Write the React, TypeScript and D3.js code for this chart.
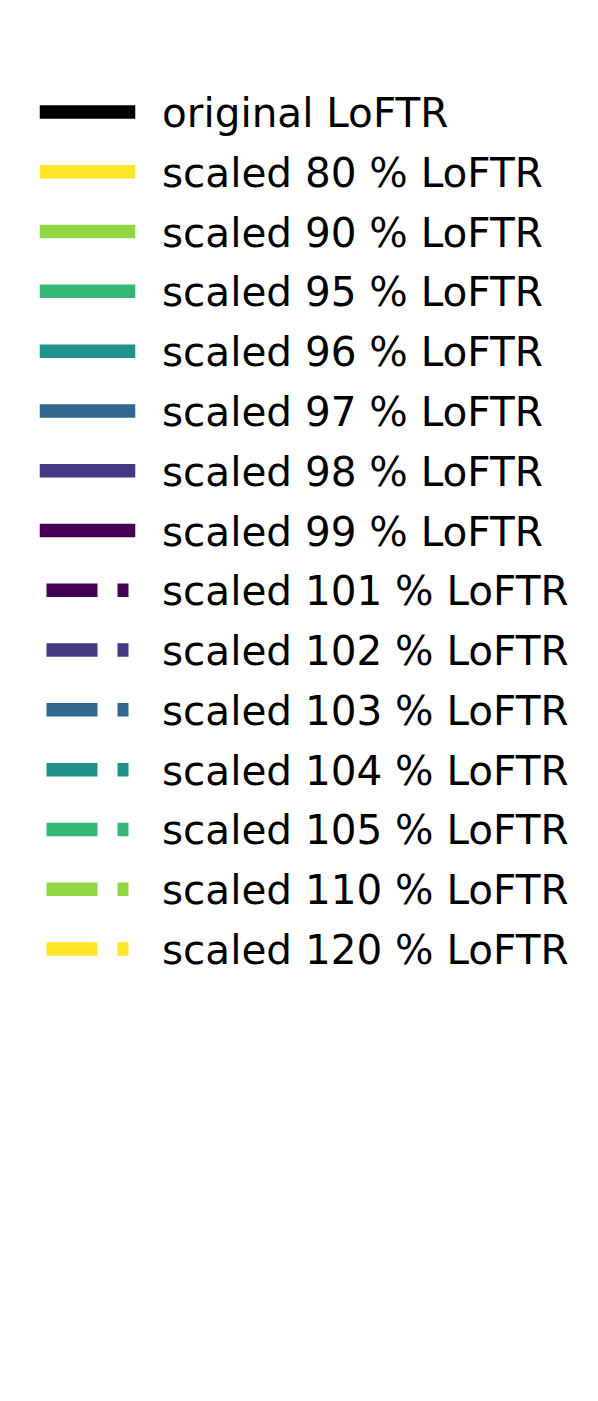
import React from 'react'
import * as d3 from 'd3'

const width = 598
const height = 1401

// legend entries
const labels = [
  'original LoFTR',
  'scaled 80 % LoFTR',
  'scaled 90 % LoFTR',
  'scaled 95 % LoFTR',
  'scaled 96 % LoFTR',
  'scaled 97 % LoFTR',
  'scaled 98 % LoFTR',
  'scaled 99 % LoFTR',
  'scaled 101 % LoFTR',
  'scaled 102 % LoFTR',
  'scaled 103 % LoFTR',
  'scaled 104 % LoFTR',
  'scaled 105 % LoFTR',
  'scaled 110 % LoFTR',
  'scaled 120 % LoFTR',
]
const scalesBelow = [80, 90, 95, 96, 97, 98, 99]
const scalesAbove = [101, 102, 103, 104, 105, 110, 120]

const stepT = d3.scaleLinear().domain([0, scalesBelow.length - 1]).range([0, 1])

type Entry = { label: string, color: string, dashed: boolean }

const entries: Entry[] = [
  { label: labels[0], color: '#000000', dashed: false },
  ...scalesBelow.map((s, i) => ({
    label: labels[1 + i],
    color: d3.interpolateViridis(1 - stepT(i)),
    dashed: false,
  })),
  ...scalesAbove.map((s, i) => ({
    label: labels[1 + scalesBelow.length + i],
    color: d3.interpolateViridis(stepT(i)),
    dashed: true,
  })),
]

export default function App() {
  const y = d3.scalePoint<string>()
    .domain(labels)
    .range([112, 949])

  const x0 = 46.5
  const x1 = 128.5

  return (
    <svg width={width} height={height} style={{ display: 'block', position: 'absolute', left: 0, top: 0 }}>
      <rect width={width} height={height} fill="#fff" />
      {entries.map((e) => {
        const cy = y(e.label) as number
        return (
          <g key={e.label}>
            <line
              x1={x0}
              x2={x1}
              y1={cy}
              y2={cy}
              stroke={e.color}
              strokeWidth={13.5}
              strokeLinecap={e.dashed ? 'butt' : 'square'}
              strokeDasharray={e.dashed ? '51,20,11,20' : undefined} />
            <text
              x={162}
              y={cy + 15}
              fontFamily="DejaVu Sans"
              fontSize={40.5}
              fill="#000">{e.label}</text>
          </g>
        )
      })}
    </svg>
  )
}
